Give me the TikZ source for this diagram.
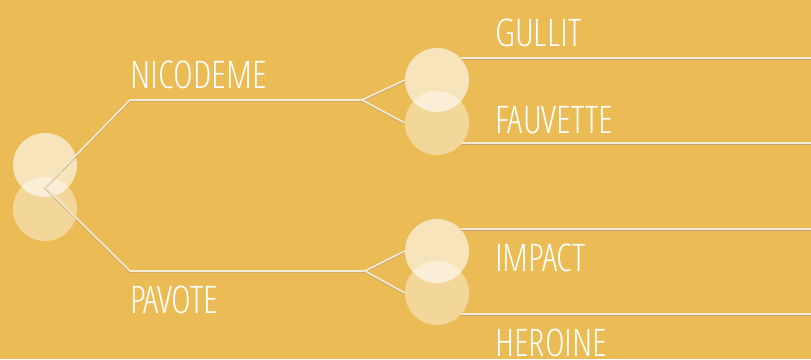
\documentclass[tikz,border=0pt]{standalone}
\usepackage{fontspec}
\setmainfont{OpenSans-CondLight}[Extension=.ttf]
\definecolor{fon}{HTML}{EBBC55}
\definecolor{provod}{HTML}{F3EAD6}
\definecolor{ten}{HTML}{C2A26C}
\tikzset{
	verh/.style={circle, fill=white, fill opacity=0.6, inner sep=0, minimum size=64pt},
	niz/.style={circle, fill=white, fill opacity=0.4, inner sep=0, minimum size=64pt},
	provod/.style={draw=provod, line width=1.6pt,
		preaction={draw=ten, line width=1.6pt, transform canvas={yshift=-0.9pt}}},
	metka/.style={anchor=base west, inner sep=0, text=white, font=\fontsize{38}{38}\selectfont}
}

\begin{document}
\begin{tikzpicture}[x=1pt, y=-1pt]
	% Фон
	\fill[fon] (0,0) rectangle (811,359);
	\useasboundingbox (0,0) rectangle (811,359);
	
	% Определение координат
	\coordinate (koren) at (45,187);
	\coordinate (nico-k) at (130,100);
	\coordinate (nico-s) at (362,100);
	\coordinate (pav-k) at (130,271);
	\coordinate (pav-s) at (365,271);
	\coordinate (kraj) at (811,0);
	
	% Кружки
	\node[verh] (koren-a) at (45,165) {};
	\node[niz] (koren-b) at (45,209) {};
	\node[verh] (gul-a) at (437,80) {};
	\node[niz] (fau-a) at (437,123) {};
	\node[verh] (imp-a) at (437,251) {};
	\node[niz] (her-a) at (437,293) {};
	
	% Линии
	\draw[provod] (nico-s) -- (nico-k) -- (koren) -- (pav-k) -- (pav-s);
	\draw[provod] (gul-a.west) -- (nico-s) -- (fau-a.west);
	\draw[provod] (imp-a.west) -- (pav-s) -- (her-a.west);
	\draw[provod] (gul-a.43) -- (gul-a.43 -| kraj);
	\draw[provod] (fau-a.-39) -- (fau-a.-39 -| kraj);
	\draw[provod] (imp-a.43) -- (imp-a.43 -| kraj);
	\draw[provod] (her-a.-41) -- (her-a.-41 -| kraj);
	
	% Подписи
	\node[metka] (nico) at (130,88) {NICODEME};
	\node[metka] (pav) at (130,313) {PAVOTE};
	\node[metka] (gul) at (495,46) {GULLIT};
	\node[metka] (fau) at (495,133) {FAUVETTE};
	\node[metka] (imp) at (495,271) {IMPACT};
	\node[metka] (her) at (495,356) {HEROINE};
\end{tikzpicture}
\end{document}
